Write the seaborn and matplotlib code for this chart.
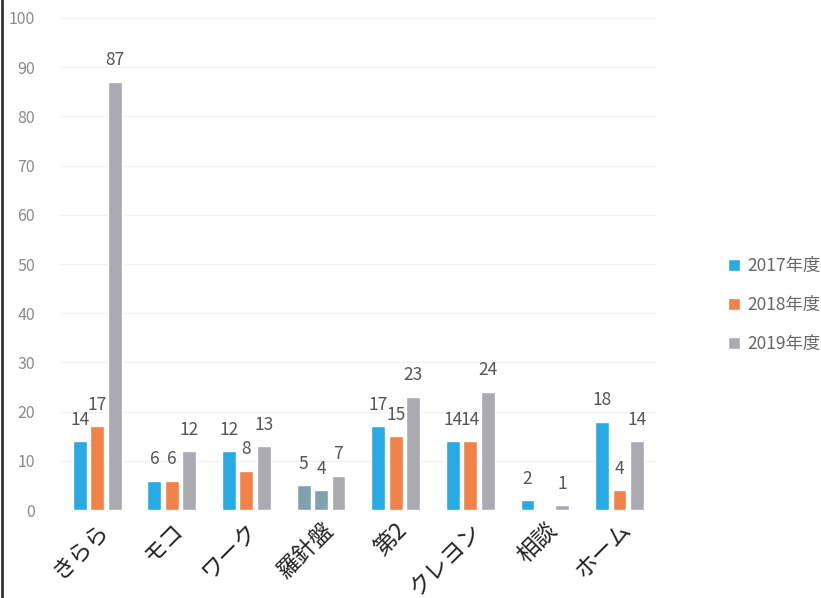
import matplotlib
matplotlib.use("Agg")
import matplotlib.pyplot as plt
import matplotlib.lines as mlines
import numpy as np
import pandas as pd
import seaborn as sns

# 施設別・年度別の利用者数
facilities = ["きらら", "モコ", "ワーク", "羅針盤", "第2", "クレヨン", "相談", "ホーム"]
years = ["2017年度", "2018年度", "2019年度"]
v2017 = [14, 6, 12, 5, 17, 14, 2, 18]
v2018 = [17, 6, 8, 4, 15, 14, np.nan, 4]
v2019 = [87, 12, 13, 7, 23, 24, 1, 14]
colors = ["#2AAAE2", "#F0824A", "#A9AAB2"]

df = pd.DataFrame({
    "施設": facilities * 3,
    "年度": sum([[y] * len(facilities) for y in years], []),
    "人数": v2017 + v2018 + v2019,
})

sns.set_theme(style="white")
plt.rcParams["font.family"] = ["Noto Sans CJK JP", "DejaVu Sans"]

fig = plt.figure(figsize=(8.21, 5.98), dpi=100)
ax = fig.add_axes([0.073, 0.147, 0.727, 0.823])

sns.barplot(data=df, x="施設", y="人数", hue="年度", palette=colors,
            saturation=1, width=0.7, gap=0.2, ax=ax, legend=True)

# 羅針盤の棒はくすんだ青緑で表示
lrow = facilities.index("羅針盤")
for cont in ax.containers[:2]:
    cont.patches[lrow].set_facecolor("#7FA2AC")

for cont in ax.containers:
    ax.bar_label(cont, fmt="%d", padding=9, fontsize=12.5, color="#555555")

ax.set_ylim(0, 100)
ax.set_xlim(-0.5, 7.5)
ax.set_yticks(range(0, 101, 10))
ax.yaxis.grid(True, color="#F2F2F2", linewidth=1)
ax.set_axisbelow(True)
for s in ax.spines.values():
    s.set_visible(False)
ax.tick_params(axis="y", length=0, pad=18, labelsize=11.5, labelcolor="#8A8A8A")
ax.tick_params(axis="x", length=0, pad=6)
ax.set_xlabel("")
ax.set_ylabel("")
for lbl in ax.get_xticklabels():
    lbl.set_rotation(45)
    lbl.set_ha("right")
    lbl.set_rotation_mode("anchor")
    lbl.set_fontsize(16.5)
    lbl.set_color("#222222")

handles, labels = ax.get_legend_handles_labels()
ax.legend(handles, labels, loc="center left", bbox_to_anchor=(0.868, 0.49),
          bbox_transform=fig.transFigure, frameon=False, fontsize=12.5,
          labelcolor="#666666", handlelength=0.7, handleheight=0.7,
          handletextpad=0.4, labelspacing=1.2)

# 左端の枠線
fig.add_artist(mlines.Line2D([0.003, 0.003], [0.0, 1.0], color="#333333",
                             linewidth=2, transform=fig.transFigure))

fig.savefig("out.png", dpi=100)
